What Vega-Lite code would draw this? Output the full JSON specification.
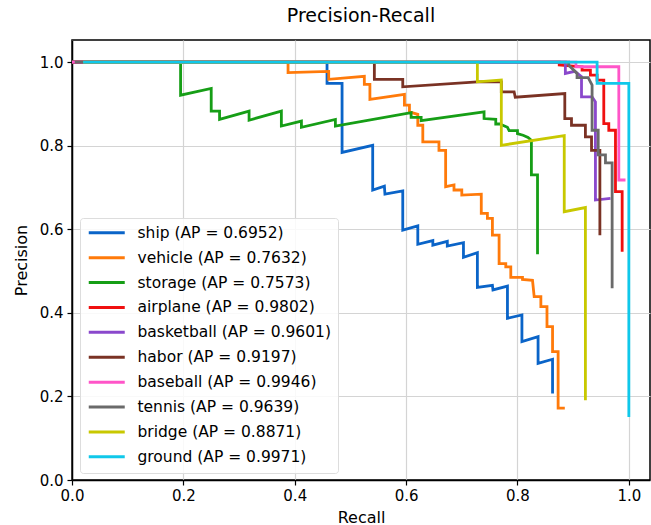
{
  "$schema": "https://vega.github.io/schema/vega-lite/v6.json",
  "autosize": {"type": "none"},
  "padding": {"left": 72, "top": 40, "right": 1, "bottom": 45},
  "width": 578,
  "height": 440,
  "background": "white",
  "title": {"text": "Precision-Recall", "fontSize": 19, "font": "DejaVu Sans", "fontWeight": "normal", "color": "black", "offset": 14, "anchor": "middle"},
  "config": {
    "font": "DejaVu Sans",
    "view": {"stroke": "black", "strokeWidth": 1.5},
    "axis": {
      "labelFont": "DejaVu Sans", "labelFontSize": 15, "labelColor": "black",
      "titleFont": "DejaVu Sans", "titleFontSize": 16, "titleFontWeight": "normal", "titleColor": "black",
      "domainColor": "black", "domainWidth": 1.5, "tickColor": "black", "tickSize": 5, "tickWidth": 1.2,
      "gridColor": "#d4d4d4", "gridWidth": 1.2
    }
  },
  "data": {"values": [
    {"s":"ship (AP = 0.6952)","i":0,"r":0,"p":1},
    {"s":"ship (AP = 0.6952)","i":1,"r":0.458,"p":1},
    {"s":"ship (AP = 0.6952)","i":2,"r":0.458,"p":0.949},
    {"s":"ship (AP = 0.6952)","i":3,"r":0.485,"p":0.949},
    {"s":"ship (AP = 0.6952)","i":4,"r":0.485,"p":0.784},
    {"s":"ship (AP = 0.6952)","i":5,"r":0.540,"p":0.801},
    {"s":"ship (AP = 0.6952)","i":6,"r":0.540,"p":0.694},
    {"s":"ship (AP = 0.6952)","i":7,"r":0.561,"p":0.703},
    {"s":"ship (AP = 0.6952)","i":8,"r":0.562,"p":0.684},
    {"s":"ship (AP = 0.6952)","i":9,"r":0.594,"p":0.692},
    {"s":"ship (AP = 0.6952)","i":10,"r":0.594,"p":0.598},
    {"s":"ship (AP = 0.6952)","i":11,"r":0.621,"p":0.608},
    {"s":"ship (AP = 0.6952)","i":12,"r":0.621,"p":0.564},
    {"s":"ship (AP = 0.6952)","i":13,"r":0.648,"p":0.573},
    {"s":"ship (AP = 0.6952)","i":14,"r":0.648,"p":0.562},
    {"s":"ship (AP = 0.6952)","i":15,"r":0.674,"p":0.571},
    {"s":"ship (AP = 0.6952)","i":16,"r":0.674,"p":0.560},
    {"s":"ship (AP = 0.6952)","i":17,"r":0.703,"p":0.568},
    {"s":"ship (AP = 0.6952)","i":18,"r":0.703,"p":0.533},
    {"s":"ship (AP = 0.6952)","i":19,"r":0.728,"p":0.544},
    {"s":"ship (AP = 0.6952)","i":20,"r":0.728,"p":0.461},
    {"s":"ship (AP = 0.6952)","i":21,"r":0.755,"p":0.466},
    {"s":"ship (AP = 0.6952)","i":22,"r":0.756,"p":0.455},
    {"s":"ship (AP = 0.6952)","i":23,"r":0.782,"p":0.464},
    {"s":"ship (AP = 0.6952)","i":24,"r":0.782,"p":0.387},
    {"s":"ship (AP = 0.6952)","i":25,"r":0.808,"p":0.395},
    {"s":"ship (AP = 0.6952)","i":26,"r":0.808,"p":0.331},
    {"s":"ship (AP = 0.6952)","i":27,"r":0.837,"p":0.343},
    {"s":"ship (AP = 0.6952)","i":28,"r":0.837,"p":0.279},
    {"s":"ship (AP = 0.6952)","i":29,"r":0.863,"p":0.289},
    {"s":"ship (AP = 0.6952)","i":30,"r":0.863,"p":0.207},

    {"s":"vehicle (AP = 0.7632)","i":0,"r":0,"p":1},
    {"s":"vehicle (AP = 0.7632)","i":1,"r":0.388,"p":1},
    {"s":"vehicle (AP = 0.7632)","i":2,"r":0.388,"p":0.975},
    {"s":"vehicle (AP = 0.7632)","i":3,"r":0.461,"p":0.978},
    {"s":"vehicle (AP = 0.7632)","i":4,"r":0.461,"p":0.959},
    {"s":"vehicle (AP = 0.7632)","i":5,"r":0.525,"p":0.966},
    {"s":"vehicle (AP = 0.7632)","i":6,"r":0.525,"p":0.947},
    {"s":"vehicle (AP = 0.7632)","i":7,"r":0.535,"p":0.947},
    {"s":"vehicle (AP = 0.7632)","i":8,"r":0.535,"p":0.911},
    {"s":"vehicle (AP = 0.7632)","i":9,"r":0.597,"p":0.923},
    {"s":"vehicle (AP = 0.7632)","i":10,"r":0.597,"p":0.897},
    {"s":"vehicle (AP = 0.7632)","i":11,"r":0.606,"p":0.897},
    {"s":"vehicle (AP = 0.7632)","i":12,"r":0.606,"p":0.881},
    {"s":"vehicle (AP = 0.7632)","i":13,"r":0.621,"p":0.875},
    {"s":"vehicle (AP = 0.7632)","i":14,"r":0.621,"p":0.849},
    {"s":"vehicle (AP = 0.7632)","i":15,"r":0.630,"p":0.849},
    {"s":"vehicle (AP = 0.7632)","i":16,"r":0.630,"p":0.809},
    {"s":"vehicle (AP = 0.7632)","i":17,"r":0.659,"p":0.809},
    {"s":"vehicle (AP = 0.7632)","i":18,"r":0.659,"p":0.789},
    {"s":"vehicle (AP = 0.7632)","i":19,"r":0.671,"p":0.789},
    {"s":"vehicle (AP = 0.7632)","i":20,"r":0.671,"p":0.702},
    {"s":"vehicle (AP = 0.7632)","i":21,"r":0.686,"p":0.706},
    {"s":"vehicle (AP = 0.7632)","i":22,"r":0.686,"p":0.694},
    {"s":"vehicle (AP = 0.7632)","i":23,"r":0.700,"p":0.694},
    {"s":"vehicle (AP = 0.7632)","i":24,"r":0.700,"p":0.682},
    {"s":"vehicle (AP = 0.7632)","i":25,"r":0.735,"p":0.684},
    {"s":"vehicle (AP = 0.7632)","i":26,"r":0.735,"p":0.638},
    {"s":"vehicle (AP = 0.7632)","i":27,"r":0.746,"p":0.638},
    {"s":"vehicle (AP = 0.7632)","i":28,"r":0.746,"p":0.626},
    {"s":"vehicle (AP = 0.7632)","i":29,"r":0.755,"p":0.626},
    {"s":"vehicle (AP = 0.7632)","i":30,"r":0.755,"p":0.586},
    {"s":"vehicle (AP = 0.7632)","i":31,"r":0.767,"p":0.586},
    {"s":"vehicle (AP = 0.7632)","i":32,"r":0.767,"p":0.518},
    {"s":"vehicle (AP = 0.7632)","i":33,"r":0.779,"p":0.518},
    {"s":"vehicle (AP = 0.7632)","i":34,"r":0.779,"p":0.510},
    {"s":"vehicle (AP = 0.7632)","i":35,"r":0.788,"p":0.510},
    {"s":"vehicle (AP = 0.7632)","i":36,"r":0.788,"p":0.485},
    {"s":"vehicle (AP = 0.7632)","i":37,"r":0.809,"p":0.485},
    {"s":"vehicle (AP = 0.7632)","i":38,"r":0.809,"p":0.480},
    {"s":"vehicle (AP = 0.7632)","i":39,"r":0.827,"p":0.478},
    {"s":"vehicle (AP = 0.7632)","i":40,"r":0.830,"p":0.439},
    {"s":"vehicle (AP = 0.7632)","i":41,"r":0.842,"p":0.439},
    {"s":"vehicle (AP = 0.7632)","i":42,"r":0.842,"p":0.415},
    {"s":"vehicle (AP = 0.7632)","i":43,"r":0.853,"p":0.415},
    {"s":"vehicle (AP = 0.7632)","i":44,"r":0.853,"p":0.367},
    {"s":"vehicle (AP = 0.7632)","i":45,"r":0.863,"p":0.367},
    {"s":"vehicle (AP = 0.7632)","i":46,"r":0.863,"p":0.307},
    {"s":"vehicle (AP = 0.7632)","i":47,"r":0.873,"p":0.307},
    {"s":"vehicle (AP = 0.7632)","i":48,"r":0.873,"p":0.172},
    {"s":"vehicle (AP = 0.7632)","i":49,"r":0.885,"p":0.172},

    {"s":"storage (AP = 0.7573)","i":0,"r":0,"p":1},
    {"s":"storage (AP = 0.7573)","i":1,"r":0.195,"p":1},
    {"s":"storage (AP = 0.7573)","i":2,"r":0.195,"p":0.921},
    {"s":"storage (AP = 0.7573)","i":3,"r":0.250,"p":0.937},
    {"s":"storage (AP = 0.7573)","i":4,"r":0.250,"p":0.883},
    {"s":"storage (AP = 0.7573)","i":5,"r":0.265,"p":0.883},
    {"s":"storage (AP = 0.7573)","i":6,"r":0.265,"p":0.863},
    {"s":"storage (AP = 0.7573)","i":7,"r":0.318,"p":0.883},
    {"s":"storage (AP = 0.7573)","i":8,"r":0.318,"p":0.861},
    {"s":"storage (AP = 0.7573)","i":9,"r":0.376,"p":0.883},
    {"s":"storage (AP = 0.7573)","i":10,"r":0.376,"p":0.847},
    {"s":"storage (AP = 0.7573)","i":11,"r":0.412,"p":0.859},
    {"s":"storage (AP = 0.7573)","i":12,"r":0.412,"p":0.844},
    {"s":"storage (AP = 0.7573)","i":13,"r":0.473,"p":0.863},
    {"s":"storage (AP = 0.7573)","i":14,"r":0.473,"p":0.847},
    {"s":"storage (AP = 0.7573)","i":15,"r":0.609,"p":0.879},
    {"s":"storage (AP = 0.7573)","i":16,"r":0.609,"p":0.868},
    {"s":"storage (AP = 0.7573)","i":17,"r":0.627,"p":0.868},
    {"s":"storage (AP = 0.7573)","i":18,"r":0.627,"p":0.860},
    {"s":"storage (AP = 0.7573)","i":19,"r":0.740,"p":0.881},
    {"s":"storage (AP = 0.7573)","i":20,"r":0.740,"p":0.865},
    {"s":"storage (AP = 0.7573)","i":21,"r":0.761,"p":0.863},
    {"s":"storage (AP = 0.7573)","i":22,"r":0.761,"p":0.852},
    {"s":"storage (AP = 0.7573)","i":23,"r":0.768,"p":0.852},
    {"s":"storage (AP = 0.7573)","i":24,"r":0.782,"p":0.844},
    {"s":"storage (AP = 0.7573)","i":25,"r":0.785,"p":0.836},
    {"s":"storage (AP = 0.7573)","i":26,"r":0.800,"p":0.836},
    {"s":"storage (AP = 0.7573)","i":27,"r":0.800,"p":0.829},
    {"s":"storage (AP = 0.7573)","i":28,"r":0.810,"p":0.825},
    {"s":"storage (AP = 0.7573)","i":29,"r":0.819,"p":0.820},
    {"s":"storage (AP = 0.7573)","i":30,"r":0.825,"p":0.813},
    {"s":"storage (AP = 0.7573)","i":31,"r":0.825,"p":0.730},
    {"s":"storage (AP = 0.7573)","i":32,"r":0.836,"p":0.730},
    {"s":"storage (AP = 0.7573)","i":33,"r":0.836,"p":0.540},

    {"s":"airplane (AP = 0.9802)","i":0,"r":0,"p":1},
    {"s":"airplane (AP = 0.9802)","i":1,"r":0.875,"p":1},
    {"s":"airplane (AP = 0.9802)","i":2,"r":0.875,"p":0.993},
    {"s":"airplane (AP = 0.9802)","i":3,"r":0.916,"p":0.989},
    {"s":"airplane (AP = 0.9802)","i":4,"r":0.916,"p":0.981},
    {"s":"airplane (AP = 0.9802)","i":5,"r":0.931,"p":0.981},
    {"s":"airplane (AP = 0.9802)","i":6,"r":0.931,"p":0.969},
    {"s":"airplane (AP = 0.9802)","i":7,"r":0.943,"p":0.969},
    {"s":"airplane (AP = 0.9802)","i":8,"r":0.943,"p":0.957},
    {"s":"airplane (AP = 0.9802)","i":9,"r":0.955,"p":0.957},
    {"s":"airplane (AP = 0.9802)","i":10,"r":0.955,"p":0.853},
    {"s":"airplane (AP = 0.9802)","i":11,"r":0.964,"p":0.853},
    {"s":"airplane (AP = 0.9802)","i":12,"r":0.964,"p":0.837},
    {"s":"airplane (AP = 0.9802)","i":13,"r":0.976,"p":0.837},
    {"s":"airplane (AP = 0.9802)","i":14,"r":0.976,"p":0.690},
    {"s":"airplane (AP = 0.9802)","i":15,"r":0.988,"p":0.690},
    {"s":"airplane (AP = 0.9802)","i":16,"r":0.988,"p":0.546},

    {"s":"basketball (AP = 0.9601)","i":0,"r":0,"p":1},
    {"s":"basketball (AP = 0.9601)","i":1,"r":0.886,"p":1},
    {"s":"basketball (AP = 0.9601)","i":2,"r":0.886,"p":0.973},
    {"s":"basketball (AP = 0.9601)","i":3,"r":0.903,"p":0.978},
    {"s":"basketball (AP = 0.9601)","i":4,"r":0.915,"p":0.965},
    {"s":"basketball (AP = 0.9601)","i":5,"r":0.915,"p":0.917},
    {"s":"basketball (AP = 0.9601)","i":6,"r":0.934,"p":0.917},
    {"s":"basketball (AP = 0.9601)","i":7,"r":0.940,"p":0.905},
    {"s":"basketball (AP = 0.9601)","i":8,"r":0.940,"p":0.670},
    {"s":"basketball (AP = 0.9601)","i":9,"r":0.967,"p":0.674},

    {"s":"habor (AP = 0.9197)","i":0,"r":0,"p":1},
    {"s":"habor (AP = 0.9197)","i":1,"r":0.543,"p":1},
    {"s":"habor (AP = 0.9197)","i":2,"r":0.543,"p":0.959},
    {"s":"habor (AP = 0.9197)","i":3,"r":0.594,"p":0.959},
    {"s":"habor (AP = 0.9197)","i":4,"r":0.594,"p":0.941},
    {"s":"habor (AP = 0.9197)","i":5,"r":0.728,"p":0.953},
    {"s":"habor (AP = 0.9197)","i":6,"r":0.771,"p":0.953},
    {"s":"habor (AP = 0.9197)","i":7,"r":0.771,"p":0.929},
    {"s":"habor (AP = 0.9197)","i":8,"r":0.794,"p":0.929},
    {"s":"habor (AP = 0.9197)","i":9,"r":0.796,"p":0.916},
    {"s":"habor (AP = 0.9197)","i":10,"r":0.885,"p":0.925},
    {"s":"habor (AP = 0.9197)","i":11,"r":0.885,"p":0.865},
    {"s":"habor (AP = 0.9197)","i":12,"r":0.897,"p":0.865},
    {"s":"habor (AP = 0.9197)","i":13,"r":0.897,"p":0.849},
    {"s":"habor (AP = 0.9197)","i":14,"r":0.922,"p":0.849},
    {"s":"habor (AP = 0.9197)","i":15,"r":0.922,"p":0.821},
    {"s":"habor (AP = 0.9197)","i":16,"r":0.933,"p":0.821},
    {"s":"habor (AP = 0.9197)","i":17,"r":0.933,"p":0.789},
    {"s":"habor (AP = 0.9197)","i":18,"r":0.948,"p":0.789},
    {"s":"habor (AP = 0.9197)","i":19,"r":0.948,"p":0.586},

    {"s":"baseball (AP = 0.9946)","i":0,"r":0,"p":1},
    {"s":"baseball (AP = 0.9946)","i":1,"r":0.905,"p":1},
    {"s":"baseball (AP = 0.9946)","i":2,"r":0.905,"p":0.989},
    {"s":"baseball (AP = 0.9946)","i":3,"r":0.982,"p":0.989},
    {"s":"baseball (AP = 0.9946)","i":4,"r":0.982,"p":0.718},
    {"s":"baseball (AP = 0.9946)","i":5,"r":0.994,"p":0.718},

    {"s":"tennis (AP = 0.9639)","i":0,"r":0.005,"p":1},
    {"s":"tennis (AP = 0.9639)","i":1,"r":0.892,"p":1},
    {"s":"tennis (AP = 0.9639)","i":2,"r":0.892,"p":0.993},
    {"s":"tennis (AP = 0.9639)","i":3,"r":0.907,"p":0.973},
    {"s":"tennis (AP = 0.9639)","i":4,"r":0.907,"p":0.963},
    {"s":"tennis (AP = 0.9639)","i":5,"r":0.927,"p":0.963},
    {"s":"tennis (AP = 0.9639)","i":6,"r":0.934,"p":0.945},
    {"s":"tennis (AP = 0.9639)","i":7,"r":0.934,"p":0.837},
    {"s":"tennis (AP = 0.9639)","i":8,"r":0.945,"p":0.837},
    {"s":"tennis (AP = 0.9639)","i":9,"r":0.945,"p":0.778},
    {"s":"tennis (AP = 0.9639)","i":10,"r":0.958,"p":0.778},
    {"s":"tennis (AP = 0.9639)","i":11,"r":0.958,"p":0.759},
    {"s":"tennis (AP = 0.9639)","i":12,"r":0.970,"p":0.759},
    {"s":"tennis (AP = 0.9639)","i":13,"r":0.970,"p":0.459},

    {"s":"bridge (AP = 0.8871)","i":0,"r":0.02,"p":1},
    {"s":"bridge (AP = 0.8871)","i":1,"r":0.728,"p":1},
    {"s":"bridge (AP = 0.8871)","i":2,"r":0.728,"p":0.953},
    {"s":"bridge (AP = 0.8871)","i":3,"r":0.771,"p":0.957},
    {"s":"bridge (AP = 0.8871)","i":4,"r":0.771,"p":0.801},
    {"s":"bridge (AP = 0.8871)","i":5,"r":0.884,"p":0.824},
    {"s":"bridge (AP = 0.8871)","i":6,"r":0.884,"p":0.642},
    {"s":"bridge (AP = 0.8871)","i":7,"r":0.922,"p":0.652},
    {"s":"bridge (AP = 0.8871)","i":8,"r":0.922,"p":0.191},

    {"s":"ground (AP = 0.9971)","i":0,"r":0.02,"p":1},
    {"s":"ground (AP = 0.9971)","i":1,"r":0.943,"p":1},
    {"s":"ground (AP = 0.9971)","i":2,"r":0.943,"p":0.949},
    {"s":"ground (AP = 0.9971)","i":3,"r":1.0,"p":0.949},
    {"s":"ground (AP = 0.9971)","i":4,"r":1.0,"p":0.151}
  ]},
  "mark": {"type": "line", "strokeWidth": 2.8, "clip": true},
  "encoding": {
    "x": {"field": "r", "type": "quantitative", "title": "Recall",
      "scale": {"domain": [0, 1.038], "nice": false, "zero": false},
      "axis": {"values": [0, 0.2, 0.4, 0.6, 0.8, 1.0], "format": ".1f", "labelPadding": 3, "titlePadding": 6, "labelFlush": false}},
    "y": {"field": "p", "type": "quantitative", "title": "Precision",
      "scale": {"domain": [0, 1.053], "nice": false, "zero": false},
      "axis": {"values": [0, 0.2, 0.4, 0.6, 0.8, 1.0], "format": ".1f", "labelPadding": 4, "titlePadding": 10, "labelFlush": false}},
    "order": {"field": "i", "type": "quantitative"},
    "color": {"field": "s", "type": "nominal", "sort": null,
      "scale": {
        "domain": ["ship (AP = 0.6952)", "vehicle (AP = 0.7632)", "storage (AP = 0.7573)", "airplane (AP = 0.9802)", "basketball (AP = 0.9601)", "habor (AP = 0.9197)", "baseball (AP = 0.9946)", "tennis (AP = 0.9639)", "bridge (AP = 0.8871)", "ground (AP = 0.9971)"],
        "range": ["#0a64c8", "#ff7a0a", "#169e16", "#f01010", "#8a48cc", "#7a3224", "#ff55c8", "#6a6a6a", "#c8c800", "#10c8ea"]},
      "legend": {
        "title": null, "orient": "none", "legendX": 8, "legendY": 178,
        "symbolType": "M-1,0L5,0", "symbolSize": 144, "symbolStrokeWidth": 3, "symbolFillColor": "transparent",
        "labelFont": "DejaVu Sans", "labelFontSize": 15.5, "labelColor": "black", "labelOffset": 35, "labelLimit": 400,
        "rowPadding": 7.9, "padding": 7, "fillColor": "rgba(255,255,255,0.85)", "strokeColor": "#dddddd", "cornerRadius": 3
      }
    }
  }
}
